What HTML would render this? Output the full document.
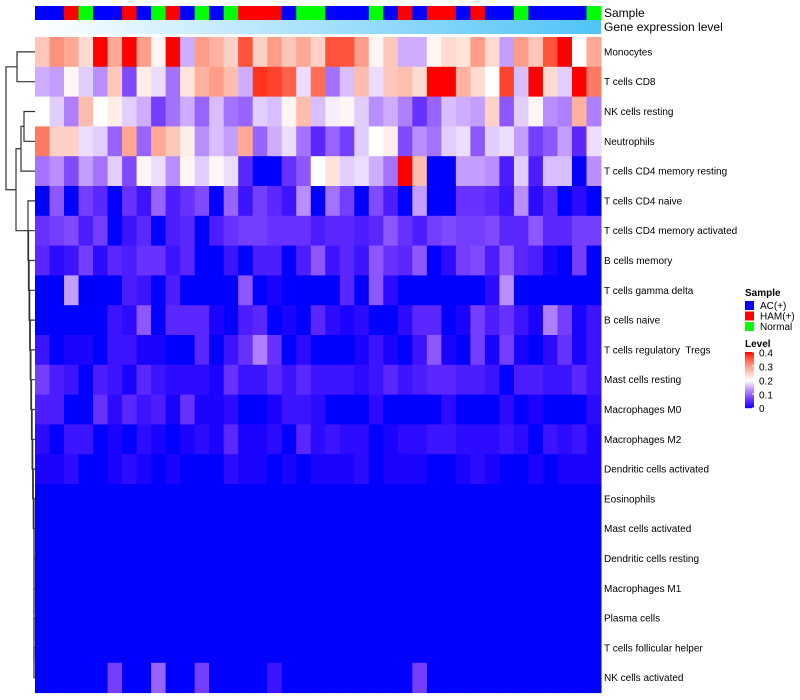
<!DOCTYPE html>
<html><head><meta charset="utf-8"><style>
body{margin:0;background:#fff;}
svg{display:block;font-family:"Liberation Sans",sans-serif;}
svg text{white-space:pre;}
</style></head><body>
<svg id="chart" width="800" height="700"></svg>
<script>
const rowNames=["Monocytes","T cells CD8","NK cells resting","Neutrophils","T cells CD4 memory resting","T cells CD4 naive","T cells CD4 memory activated","B cells memory","T cells gamma delta","B cells naive","T cells regulatory  Tregs","Mast cells resting","Macrophages M0","Macrophages M2","Dendritic cells activated","Eosinophils","Mast cells activated","Dendritic cells resting","Macrophages M1","Plasma cells","T cells follicular helper","NK cells activated"];
const sampleGroups="AAHNAAHANHANANHHHANNAAANAHAHHAHAANAAAAN".split("");
const levelTicks=[0,0.1,0.2,0.3,0.4];
const Z=new Array(39).fill(0);
const values=[
[.26,.31,.29,.24,.4,.29,.4,.3,.21,.4,.15,.3,.28,.25,.36,.25,.3,.26,.29,.25,.36,.36,.3,.21,.26,.15,.15,.21,.24,.23,.3,.24,.14,.3,.26,.36,.4,.2,.29],
[.15,.14,.21,.17,.13,.26,.08,.22,.18,.11,.23,.28,.3,.27,.15,.38,.37,.35,.18,.34,.11,.16,.27,.18,.26,.27,.24,.4,.4,.28,.24,.2,.37,.16,.4,.24,.17,.4,.33],
[.2,.17,.12,.27,.2,.22,.17,.15,.07,.11,.15,.1,.16,.11,.1,.17,.16,.21,.27,.16,.19,.21,.17,.13,.15,.12,.06,.1,.16,.15,.14,.25,.09,.17,.21,.13,.12,.28,.12],
[.33,.25,.25,.18,.17,.1,.29,.1,.29,.26,.22,.13,.16,.14,.29,.1,.15,.18,.11,.05,.1,.07,.17,.2,.22,.08,.13,.11,.17,.18,.09,.17,.18,.14,.07,.09,.14,.05,.18],
[.11,.13,.08,.14,.11,.17,.08,.21,.18,.13,.21,.17,.21,.18,.05,0,0,.06,.09,.2,.23,.17,.18,.15,.11,.4,.27,0,0,.14,.14,.13,.04,.17,.04,.16,.16,0,.13],
[0,.09,0,.07,.05,0,.06,.03,.1,.04,.06,.08,0,.1,.03,.07,.05,.03,.13,0,.11,.07,0,.08,.04,0,.14,0,0,.06,.06,.05,.03,.13,.02,.05,0,.02,0],
[.06,.07,.08,.04,.07,0,.03,.05,0,.04,.05,0,.04,.06,.07,.07,.06,.06,.06,.04,.05,.05,.04,.05,.09,.06,.04,.07,.08,.07,.07,.08,.05,.05,.09,.05,.05,.07,.07],
[.05,.02,.03,.07,.02,.05,.04,.06,.06,.03,.05,0,0,.03,0,.04,.04,0,.04,.09,.03,.05,.03,.09,.06,.05,.09,0,.02,.07,.08,.04,.09,.05,.04,.01,0,.07,0],
[0,0,.14,0,0,0,.04,.03,0,.04,0,0,0,0,.09,0,.01,0,0,0,0,.05,0,.09,.02,0,0,0,0,0,0,.02,.13,0,0,0,0,0,0],
[0,0,0,0,0,.03,.02,.09,0,.05,.05,.05,.01,0,.04,.05,0,.01,0,.05,.02,.01,.02,0,0,.02,.05,.05,0,.01,.07,.04,.06,.03,.01,.12,.07,.01,.03],
[.03,0,.01,.01,0,.03,.03,.01,.01,0,0,.05,0,.03,.06,.12,.06,0,.02,0,0,0,.01,.03,.01,0,.03,.09,.01,0,.07,.01,.07,.01,0,.02,.06,.01,.03],
[.07,.04,.03,0,.04,.03,.01,.05,.03,.02,.02,.02,.01,.06,.03,.03,.05,.03,.05,.03,.03,.03,.02,.03,.05,.03,.04,.05,.05,.04,.04,.03,0,.04,.04,.03,.03,.05,.03],
[.04,.04,0,0,.06,.02,.05,.03,.04,.01,.06,.01,.01,.02,0,0,.01,.03,.03,.02,0,0,0,.02,0,0,0,0,.02,0,0,0,.02,0,.01,0,0,0,.02],
[.02,0,.03,.03,0,.01,0,.02,.01,0,.01,.02,.01,.05,.01,.01,.02,0,.05,.02,.03,.02,.02,0,.01,.02,.02,.03,.03,.02,.02,.02,.03,.02,0,.03,.02,.03,.01],
[.01,.01,.02,0,0,.01,.02,.01,0,.01,0,0,0,.02,.01,.01,0,.01,0,.01,.01,.01,.02,0,.01,.01,.01,0,0,.01,.02,.01,0,0,.01,0,.01,.01,.01],
Z.slice(),Z.slice(),Z.slice(),Z.slice(),Z.slice(),Z.slice(),
[0,0,0,0,0,.07,0,0,.1,0,0,.07,0,0,0,0,.03,0,0,0,0,0,0,0,0,0,.07,0,0,0,0,0,0,0,0,0,0,0,0]
];
const NS="http://www.w3.org/2000/svg";
const svg=document.getElementById('chart');
function mk(t,a,p){const e=document.createElementNS(NS,t);for(const k in a)e.setAttribute(k,a[k]);(p||svg).appendChild(e);return e;}
const X0=35,X1=601,Y0=37,RH=29.8;
const nC=39,CW=(X1-X0)/nC;
const xPos=c=>X0+c*CW, yPos=r=>Y0+r*RH;
function col(v){v=Math.max(0,Math.min(0.4,v));
 if(v<=0.2){const t=v/0.2;return `rgb(${Math.round(255*Math.pow(t,0.75))},${Math.round(255*Math.pow(t,1.35))},255)`;}
 const t=(v-0.2)/0.2;return `rgb(255,${Math.round(255*Math.pow(1-t,0.7))},${Math.round(255*Math.pow(1-t,0.9))})`;}
const gCol={A:"#0000ff",H:"#ff0000",N:"#00ff00"};
sampleGroups.forEach((g,c)=>{const r=mk('rect',{x:xPos(c),y:6,width:CW+0.5,height:14,fill:gCol[g]});

});
const defs=mk('defs',{});
const lg=mk('linearGradient',{id:'ge',x1:0,x2:1,y1:0,y2:0},defs);
mk('stop',{offset:0,'stop-color':'#ffffff'},lg);mk('stop',{offset:1,'stop-color':'#4fc3f7'},lg);
const ge=mk('rect',{x:X0,y:20,width:X1-X0,height:14,fill:'url(#ge)'});


let t=mk('text',{x:604,y:17,'font-size':12});t.textContent="Sample";

t=mk('text',{x:604,y:31,'font-size':12});t.textContent="Gene expression level";

values.forEach((row,r)=>row.forEach((v,c)=>{
 const e=mk('rect',{x:xPos(c),y:yPos(r),width:CW+0.5,height:RH+0.5,fill:col(v)});
 
 
}));
rowNames.forEach((n,r)=>{const e=mk('text',{x:604,y:yPos(r)+RH/2+3.5,'font-size':10});e.textContent=n;

});
const dg=mk('g',{stroke:'#333','stroke-width':1.2,fill:'none'});

const cy=r=>yPos(r)+RH/2;
function join(xa,ya,xb,yb,xj){mk('path',{d:`M${xa},${ya}H${xj}V${yb}H${xb}`},dg);return (ya+yb)/2;}
const m01=join(35,cy(0),35,cy(1),17);
const m23=join(35,cy(2),35,cy(3),24);
const m234=join(24,m23,35,cy(4),21);
let prevY=cy(21),prevX=35;
for(let r=20;r>=6;r--){const xj=r>=15?34:28.5+(r-6)*0.6;prevY=join(35,cy(r),prevX,prevY,xj);prevX=xj;}
const mRest=join(35,cy(5),prevX,prevY,28);
const mMid=join(21,m234,28,mRest,16);
join(17,m01,16,mMid,6);
const L=mk('g',{});
t=mk('text',{x:745,y:296,'font-size':10,'font-weight':'bold'},L);t.textContent="Sample";

[["A","AC(+)"],["H","HAM(+)"],["N","Normal"]].forEach(([g,n],i)=>{
 const b=mk('rect',{x:745,y:301+i*10.5,width:9,height:9,fill:gCol[g]},L);
 
 const tt=mk('text',{x:760,y:309+i*10.5,'font-size':10},L);tt.textContent=n;
 });
t=mk('text',{x:745,y:347,'font-size':10,'font-weight':'bold'},L);t.textContent="Level";

const cbTop=352,cbH=56;
for(let i=0;i<cbH;i++){const v=0.4*(1-i/cbH);mk('rect',{x:745,y:cbTop+i,width:9,height:1.2,fill:col(v)},L);}
levelTicks.forEach(v=>{const y=cbTop+cbH*(1-v/0.4);
 mk('line',{x1:752,x2:755,y1:y,y2:y,stroke:'#fff'},L);
 const tt=mk('text',{x:759,y:Math.min(y+4.5,412),'font-size':10},L);tt.textContent=v===0?"0":String(v);
 });
</script>
</body></html>
